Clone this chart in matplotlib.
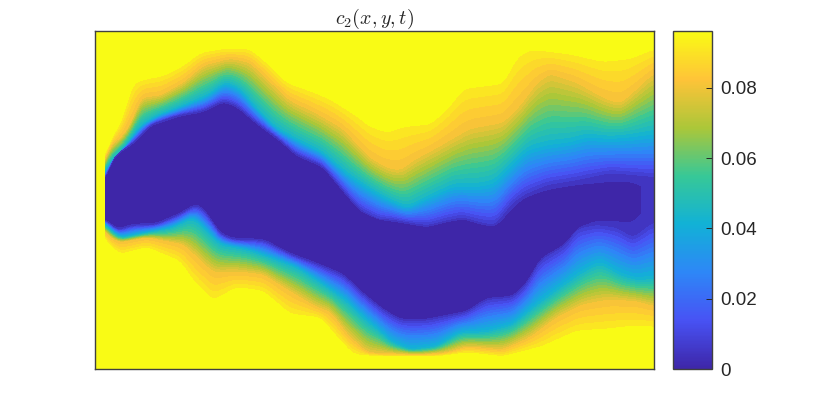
import numpy as np
import matplotlib
matplotlib.use("Agg")
import matplotlib.pyplot as plt
from matplotlib.colors import LinearSegmentedColormap

plt.rcParams['font.family'] = ['Liberation Sans', 'DejaVu Sans']
plt.rcParams['mathtext.fontset'] = 'cm'

# iso-concentration curves, (x, y) with y counted from the top
up_094 = [(10,127),(15,107),(25,94),(32,71),(37,51),(52,47),(68,44),(88,34),(105,21),(128,17),(155,17),(172,31),
          (192,51),(215,59),(235,67),(262,84),(275,94),(292,100),(308,94),(335,92),(352,77),(368,56),(408,51),
          (422,24),(435,17),(475,22),(508,29),(535,26),(559,17)]
up_080 = [(10,135),(12,117),(28,104),(38,87),(45,66),(65,64),(88,51),(108,34),(135,27),(155,31),(172,47),(195,69),
          (222,82),(248,97),(275,126),(292,136),(305,139),(318,129),(342,116),(375,97),(408,91),(425,74),(442,51),
          (455,42),(482,51),(508,66),(525,72),(542,57),(559,41)]
up_043 = [(10,145),(11,134),(28,117),(45,94),(62,84),(88,74),(112,64),(130,51),(145,57),(162,77),(182,97),(208,111),
          (228,121),(255,144),(275,157),(292,167),(312,176),(332,166),(358,154),(382,154),(398,151),(415,134),
          (432,117),(452,112),(475,109),(492,104),(515,106),(538,104),(559,101)]
up_006 = [(10,149),(18,124),(38,111),(55,93),(82,84),(108,79),(128,69),(142,74),(162,91),(185,108),(202,123),(228,134),
          (248,158),(265,178),(285,188),(295,188),(332,194),(352,189),(368,186),(385,191),(400,194),(415,174),
          (428,164),(452,154),(482,149),(515,142),(538,144),(559,146)]
up_001 = [(10,151),(18,127),(38,114),(55,96),(82,87),(108,82),(128,72),(142,77),(162,94),(185,111),(202,126),(228,137),
          (248,161),(265,181),(285,189),(295,191),(332,197),(352,192),(368,189),(385,194),(400,197),(415,184),
          (428,169),(452,162),(482,157),(508,157),(538,156),(548,164),(559,170)]
lo_001 = [(10,187),(22,197),(38,192),(62,191),(85,181),(102,171),(112,181),(125,201),(138,206),(168,207),(195,221),
          (222,231),(248,242),(268,261),(288,277),(305,287),(332,287),(372,279),(392,266),(418,264),(432,251),
          (445,227),(472,211),(482,197),(502,187),(528,185),(542,177),(548,164),(559,170)]
lo_006 = [(10,189),(22,200),(38,195),(62,194),(85,184),(102,174),(112,184),(125,204),(138,209),(168,210),(195,224),
          (222,234),(248,245),(268,264),(288,280),(305,290),(332,290),(372,282),(392,269),(418,267),(432,254),
          (445,230),(472,214),(482,198),(502,194),(522,197),(538,207),(559,191)]
lo_043 = [(10,192),(12,197),(25,207),(52,202),(78,197),(98,187),(108,197),(125,214),(152,219),(175,227),(202,237),
          (228,254),(252,271),(268,287),(285,301),(295,311),(315,319),(342,316),(365,302),(392,301),(418,294),
          (442,274),(465,257),(488,241),(505,232),(525,244),(542,249),(559,247)]
lo_080 = [(10,198),(12,206),(25,212),(52,207),(88,214),(102,227),(118,242),(142,241),(168,244),(195,261),(222,277),
          (235,281),(252,304),(272,322),(325,324),(352,322),(372,316),(408,319),(435,307),(462,287),(488,274),
          (515,269),(542,271),(559,276)]
lo_094 = [(10,205),(11,212),(25,224),(52,217),(85,231),(98,251),(118,271),(142,257),(168,261),(195,284),(225,287),
          (242,307),(258,324),(285,326),(342,326),(372,322),(408,326),(448,316),(482,301),(515,299),(538,296),(559,297)]

curves = [up_094, up_080, up_043, up_006, up_001, lo_001, lo_006, lo_043, lo_080, lo_094]
curve_vals = [0.093, 0.08, 0.043, 0.006, 0.001, 0.001, 0.006, 0.043, 0.08, 0.093]
c_max = 0.0962
left_end = 9.5     # left of this the field is just yellow
end_x = 546        # darkest core stops here
end_val = 0.004

xx = np.arange(0, 560.0, 1.0)
yy = np.arange(0, 338.5, 1.0)

kernel = np.ones(9) / 9
rows = []
for cur in curves:
    cur = np.array(cur, dtype=float)
    line = np.interp(xx, cur[:, 0], cur[:, 1])
    # two passes, the hand read curves are a bit jagged
    for k in range(2):
        line = np.convolve(np.pad(line, 4, mode='edge'), kernel, mode='valid')
    rows.append(line)
rows = np.maximum.accumulate(np.array(rows), axis=0)

C = np.zeros((len(yy), len(xx)))
for j in range(len(xx)):
    ky = np.concatenate([[rows[0, j] - 1], rows[:, j], [rows[-1, j] + 1]])
    kc = np.concatenate([[c_max], curve_vals, [c_max]])
    C[:, j] = np.interp(yy, ky, kc)
C[:, xx < left_end] = c_max
C[:, xx > end_x] = np.maximum(C[:, xx > end_x], end_val)

parula = LinearSegmentedColormap.from_list('parula', [
    (0.2422, 0.1504, 0.6603), (0.2810, 0.3228, 0.9579), (0.1786, 0.5289, 0.9682), (0.0689, 0.6948, 0.8394),
    (0.2161, 0.7843, 0.5923), (0.6720, 0.7793, 0.2227), (0.9970, 0.7659, 0.2199), (0.9769, 0.9839, 0.0805)], N=256)

levels = np.append(np.linspace(0, 0.0925, 30), c_max)
band_colors = [parula((levels[i] + levels[i + 1]) / 2 / c_max) for i in range(len(levels) - 1)]
band_colors[0] = parula(0.0)
band_colors[-1] = parula(1.0)

fig = plt.figure(figsize=(8.3, 4.15), dpi=100)
ax = fig.add_axes([95 / 830, 46 / 415, 559 / 830, 338 / 415])
ax.contourf(xx, yy, C, levels=levels, colors=band_colors, antialiased=False)
ax.set_xlim(0, 559)
ax.set_ylim(338, 0)
ax.set_xticks([])
ax.set_yticks([])
ax.set_title(r'$c_2(x,y,t)$', fontsize=14.4, color='#262626', pad=3)

cax = fig.add_axes([673 / 830, 46 / 415, 39 / 830, 338 / 415])
cb = fig.colorbar(plt.cm.ScalarMappable(norm=plt.Normalize(0, c_max), cmap=parula), cax=cax)
cb.set_ticks([0, 0.02, 0.04, 0.06, 0.08])
cb.set_ticklabels(['0', '0.02', '0.04', '0.06', '0.08'])
cb.ax.tick_params(direction='in', length=4, width=0.7, labelsize=13.5, colors='#262626', pad=6)

for a in (ax, cax):
    for s in a.spines.values():
        s.set_linewidth(1.0)
        s.set_color('#404040')

plt.savefig('out.png', dpi=100)
